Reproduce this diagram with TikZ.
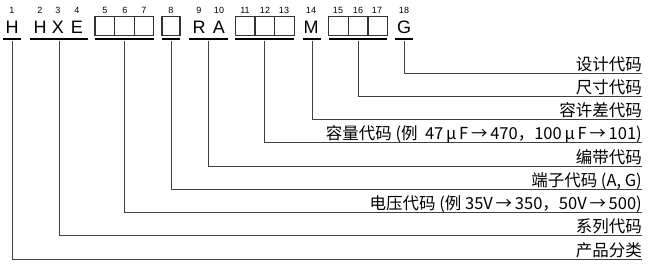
\documentclass[tikz,border=0pt]{standalone}
\usepackage{fontspec}
\setmainfont{Liberation Sans}
\newfontfamily\cjk{Noto Sans CJK SC}
\usepackage{tikz}

\begin{document}
\begin{tikzpicture}[x=1pt, y=-1pt,
    digit/.style={font=\fontsize{9}{9}\selectfont, anchor=base, inner sep=0pt},
    code/.style={font=\fontsize{18}{18}\selectfont, anchor=base, inner sep=0pt},
    cell/.style={draw=black!80, line width=1.3pt, minimum width=19.6pt, minimum height=19pt, inner sep=0pt},
    bar/.style={fill=black, inner sep=0pt, minimum height=2pt},
    lead/.style={draw=black!75, line width=1pt},
    lbl/.style={font=\cjk\fontsize{16.5}{16.5}\selectfont, anchor=base east, inner sep=0pt}]
    \useasboundingbox (0,0) rectangle (648,268);
    % position numbers
    \foreach \x [count=\i] in {12,40,58,77,105,125,144,171,199,219,245,265,284,311,338,358,377,404}
        \node[digit] (n\i) at (\x,13.5) {\i};
    % fixed letters
    \node[code] (k1) at (12,33) {H};
    \node[code] (k2) at (40,33) {H};
    \node[code] (k3) at (58,33) {X};
    \node[code] (k4) at (77,33) {E};
    \node[code] (k9) at (199,33) {R};
    \node[code] (k10) at (219,33) {A};
    \node[code] (k14) at (311,33) {M};
    \node[code] (k18) at (404,33) {G};
    % empty boxes
    \foreach \x/\i in {104.8/5,124.4/6,144/7,245.2/11,264.8/12,284.4/13,338.6/15,358.2/16,377.8/17}
        \node[cell] (c\i) at (\x,26) {};
    \node[cell, minimum width=18pt] (c8) at (171,26) {};
    % underline bars
    \foreach \a/\b [count=\i] in {3/21,30/88,95/154,162/180,189/228,235/294,303/321,329/387,395/413}
        \node[bar, minimum width=\b-\a] (b\i) at ({(\a+\b)/2},39.3) {};
    % labels and leads
    \foreach \t [count=\i from 0] in {{设计代码},{尺寸代码},{容许差代码},
        {容量代码 (例\ \ 47\,μ\,F\,→\,470，100\,μ\,F\,→\,101)},{编带代码},{端子代码 (A, G)},
        {电压代码 (例 35V\,→\,350，50V\,→\,500)},{系列代码},{产品分类}} {
        \coordinate (e\i) at (642,{73+23.25*\i});
        \node[lbl, yshift=3pt] (l\i) at (e\i) {\t};
    }
    \foreach \b/\e in {9/0,8/1,7/2,6/3,5/4,4/5,3/6,2/7,1/8}
        \draw[lead] (b\b.south) |- (e\e);
\end{tikzpicture}
\end{document}
